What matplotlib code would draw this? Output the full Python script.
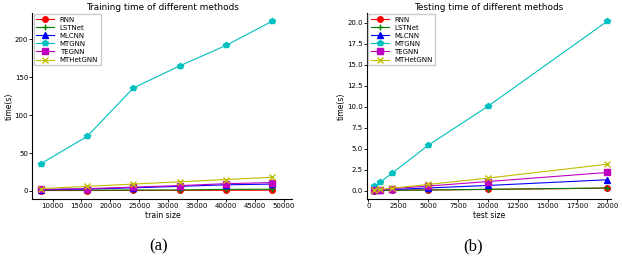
import matplotlib
matplotlib.use("Agg")
import matplotlib.pyplot as plt

# training data
train_size = [8000, 16000, 24000, 32000, 40000, 48000]
train_rnn = [0.5, 0.5, 0.6, 0.7, 0.8, 0.9]
train_lstnet = [1.0, 1.0, 1.1, 1.2, 2.0, 2.2]
train_mlcnn = [1.5, 2.5, 4.0, 6.0, 8.0, 9.0]
train_mtgnn = [36, 72, 136, 165, 192, 224]
train_tegnn = [2.0, 3.0, 5.0, 7.0, 9.5, 11.0]
train_mthetgnn = [3.0, 6.0, 9.0, 12.0, 15.0, 18.0]

# testing data
test_size = [500, 1000, 2000, 5000, 10000, 20000]
test_rnn = [0.02, 0.03, 0.05, 0.08, 0.15, 0.3]
test_lstnet = [0.02, 0.03, 0.06, 0.08, 0.16, 0.32]
test_mlcnn = [0.05, 0.08, 0.14, 0.32, 0.62, 1.3]
test_mtgnn = [0.54, 1.05, 2.1, 5.4, 10.05, 20.2]
test_tegnn = [0.06, 0.1, 0.25, 0.55, 1.09, 2.17]
test_mthetgnn = [0.08, 0.15, 0.3, 0.74, 1.5, 3.15]

names = ["RNN", "LSTNet", "MLCNN", "MTGNN", "TEGNN", "MTHetGNN"]
colors = ["r", "g", "b", "c", "m", "y"]
markers = ["o", "+", "^", "p", "s", "x"]

fig = plt.figure(figsize=(6.22, 2.66), dpi=100)
ax1 = fig.add_axes([0.052, 0.252, 0.418, 0.70])
ax2 = fig.add_axes([0.590, 0.252, 0.392, 0.70])

train_series = [train_rnn, train_lstnet, train_mlcnn, train_mtgnn, train_tegnn, train_mthetgnn]
test_series = [test_rnn, test_lstnet, test_mlcnn, test_mtgnn, test_tegnn, test_mthetgnn]

for i, name in enumerate(names):
    ax1.plot(train_size, train_series[i], color=colors[i], marker=markers[i],
             markersize=4, linewidth=0.8, label=name)
    ax2.plot(test_size, test_series[i], color=colors[i], marker=markers[i],
             markersize=4, linewidth=0.8, label=name)

ax1.set_title("Training time of different methods", fontsize=6.4, pad=2)
ax1.set_xlabel("train size", fontsize=5.5, labelpad=1)
ax1.set_ylabel("time(s)", fontsize=5.5, labelpad=1)
ax1.set_xlim(6500, 51500)
ax1.set_xticks([10000, 15000, 20000, 25000, 30000, 35000, 40000, 45000, 50000])

ax2.set_title("Testing time of different methods", fontsize=6.4, pad=2)
ax2.set_xlabel("test size", fontsize=5.5, labelpad=1)
ax2.set_ylabel("time(s)", fontsize=5.5, labelpad=1)
ax2.set_xlim(-120, 20300)
ax2.set_xticks([0, 2500, 5000, 7500, 10000, 12500, 15000, 17500, 20000])

for ax in (ax1, ax2):
    ax.spines["top"].set_visible(False)
    ax.spines["right"].set_visible(False)
    ax.tick_params(labelsize=5, length=2, width=0.6, pad=1)
    ax.legend(loc="upper left", fontsize=5, fancybox=False, framealpha=1,
              edgecolor="#cccccc", handlelength=2.6, borderpad=0.35,
              labelspacing=0.3, borderaxespad=0.2)

fig.text(0.255, 0.06, "(a)", fontsize=12, family="Liberation Serif", ha="center")
fig.text(0.760, 0.06, "(b)", fontsize=12, family="Liberation Serif", ha="center")

fig.savefig("out.png", dpi=100)
